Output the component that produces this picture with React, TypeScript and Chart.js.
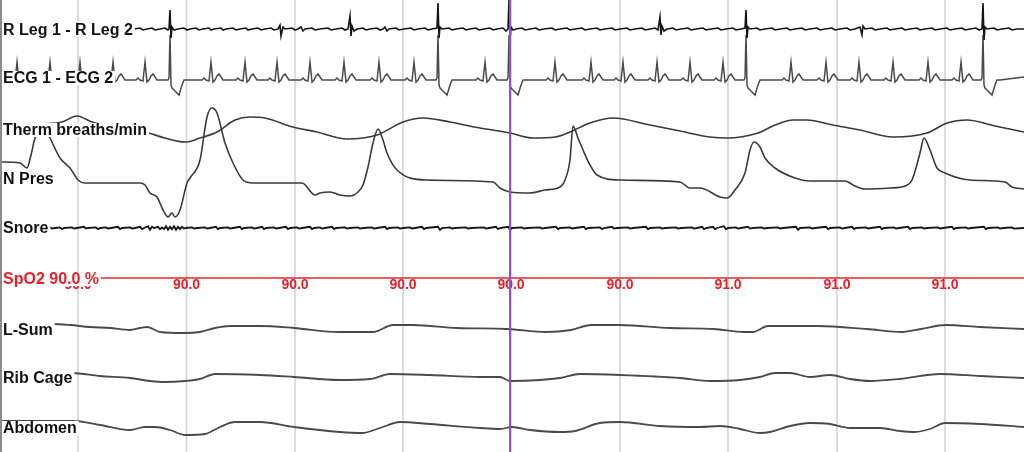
import { useEffect, useRef } from 'react';
import { Chart, registerables } from 'chart.js';

Chart.register(...registerables);

// ---------- time axis ----------
const TIME_MIN = 0;
const TIME_MAX = 1024;
const GRID_TIMES = [78, 186.5, 295, 403, 511, 620, 728, 837, 945];
const CURSOR_TIME = 510;

// ---------- SpO2 readings shown at each grid line ----------
const SPO2_VALUES = [90.0, 90.0, 90.0, 90.0, 90.0, 90.0, 91.0, 91.0, 91.0];

// ---------- ECG ----------
const ECG_NORMAL_BEATS = [17, 50, 80, 113, 145, 211, 245, 277, 310, 344, 379, 414, 485, 555, 591, 623, 657, 690, 723, 791, 826, 859, 893, 928, 961];
const ECG_PVC_BEATS = [170, 438, 509, 746, 983];
const ECG_NORMAL_SHAPE = [[-9, 0], [-7, 2], [-5, 0], [-2, -1], [0, 18], [2, -2], [4, 0], [6, 4], [8, 6], [10, 3], [12, 0]];
const ECG_PVC_SHAPE = [[-2, 0], [-1, 2], [0, 45], [1, -5], [2, -8], [4, -10], [9, -15], [12, -5], [14, 0]];
const ECG_ENDS = [[0, 0], [1000, 0], [1024, 3]];

// ---------- R Leg EMG ----------
const LEG = [
  [0, 0], [134, 0], [140, 1], [143, -1], [147, 0], [152, 1], [155, -1], [160, 0], [165, 1], [168, -1], [169, 0], [170, 19], [171, -9], [172, 2], [174, -1], [178, 0],
  [184, 1], [187, -1], [190, 0], [196, 1], [199, -1], [203, 0], [209, 1], [211, -1], [214, 0], [221, 1], [223, -1], [226, 0], [233, 1], [236, -1], [240, 0],
  [246, 1], [248, -1], [252, 0], [258, 1], [261, -1], [265, 0], [271, 1], [274, -1], [278, 0], [280, 4], [281, -7], [283, 2], [285, 0], [292, 1], [295, -1],
  [298, 0], [301, 2], [303, -2], [305, 0], [312, 1], [315, -1], [320, 0], [328, 1], [331, -1], [336, 0], [342, 1], [345, -1], [348, 0], [350, 13], [351, -7],
  [352, 3], [354, -2], [357, 0], [363, 1], [366, -1], [370, 0], [377, 1], [380, -1], [383, 0], [385, 2], [387, -2], [389, 0], [396, 1], [399, -1], [404, 0],
  [411, 1], [414, -1], [418, 0], [425, 1], [428, -1], [432, 0], [437, 1], [438, 26], [439, -9], [440, 2], [442, 0], [449, 1], [452, -1], [456, 0], [463, 1],
  [466, -1], [470, 0], [476, 1], [479, -1], [484, 0], [490, 1], [493, -1], [497, 0], [503, 1], [506, -2], [508, 0], [509, 29], [510, -11], [511, 2], [513, -1],
  [516, 0], [522, 1], [525, -1], [530, 0], [536, 1], [539, -1], [544, 0], [552, 1], [555, -1], [560, 0], [567, 1], [570, -1], [575, 0], [582, 1], [585, -1],
  [590, 0], [597, 1], [600, -1], [605, 0], [612, 1], [615, -1], [620, 0], [627, 1], [630, -1], [635, 0], [642, 1], [645, -1], [650, 0], [655, 1], [658, -1],
  [660, 12], [661, -6], [662, 3], [664, -2], [667, 0], [673, 1], [676, -1], [681, 0], [688, 1], [691, -1], [696, 0], [703, 1], [706, -1], [711, 0], [718, 1],
  [721, -1], [726, 0], [733, 1], [736, -1], [741, 0], [745, 1], [746, 19], [747, -9], [748, 2], [750, 0], [757, 1], [760, -1], [765, 0], [772, 1], [775, -1],
  [780, 0], [787, 1], [790, -1], [795, 0], [802, 1], [805, -1], [810, 0], [817, 1], [820, -1], [825, 0], [832, 1], [835, -1], [840, 0], [847, 1], [850, -1],
  [855, 0], [860, 2], [862, -6], [863, 3], [865, 0], [872, 1], [875, -1], [880, 0], [887, 1], [890, -1], [895, 0], [902, 1], [905, -1], [910, 0], [917, 1],
  [920, -1], [925, 0], [932, 1], [935, -1], [940, 0], [947, 1], [950, -1], [955, 0], [962, 1], [965, -1], [970, 0], [976, 1], [979, -1], [982, 0], [983, 26],
  [984, -11], [985, 2], [987, 0], [994, 1], [997, -1], [1002, 0], [1009, 1], [1012, -1], [1017, 0], [1024, 0],
];

// ---------- Thermistor ----------
const THERM = [
  [0, 0], [40, 6], [62, 8], [77, 14], [92, 8], [120, 2], [145, -2], [165, -8], [185, -12], [200, -8], [217, -2], [235, 10], [250, 13], [265, 12], [293, 3],
  [317, -2], [347, -9], [377, -5], [403, 8], [423, 12], [450, 8], [480, 2], [510, -3], [533, -8], [555, -7], [570, -2], [590, 7], [613, 12], [650, 5],
  [680, -1], [710, -7], [727, -8], [758, -3], [775, 5], [793, 10], [807, 10], [833, 5], [860, 0], [893, -7], [927, -3], [947, 7], [967, 10], [995, 4], [1024, -2],
];

// ---------- Nasal pressure ----------
const NPRES = [
  [0, 18], [20, 17], [27, 12], [31, 25], [35, 42], [42, 52], [46, 50], [50, 42], [60, 22], [70, 12], [78, 0], [85, -3], [140, -3], [145, -5], [150, -13],
  [157, -17], [163, -30], [168, -37], [172, -33], [175, -37], [180, -30], [187, -3], [190, 2], [200, 20], [207, 63], [212, 72], [217, 67], [225, 37],
  [233, 17], [243, 0], [253, -3], [302, -3], [315, -15], [320, -13], [330, -12], [340, -15], [350, -16], [358, -12], [363, -5], [368, 13], [373, 37],
  [378, 51], [383, 40], [387, 27], [397, 10], [427, 0], [493, -2], [500, -8], [510, -12], [530, -13], [545, -10], [560, -7], [565, 0], [570, 20],
  [573, 54], [578, 42], [583, 30], [590, 15], [597, 5], [620, 0], [680, -2], [690, -8], [700, -8], [720, -17], [727, -18], [735, -10], [745, 7], [750, 30],
  [754, 38], [760, 33], [765, 22], [775, 12], [795, 2], [810, -1], [845, -1], [855, -6], [865, -9], [890, -8], [905, -6], [912, 0], [920, 27], [924, 42],
  [930, 30], [937, 12], [945, 7], [970, 0], [1005, -2], [1012, -7], [1024, -9],
];

// ---------- Snore ----------
const SNORE = [
  [0, 0], [44, 0], [50, 1], [52, -1], [55, 0], [60, 1], [62, -2], [64, 0], [72, 1], [74, -1], [77, 0], [84, 2], [86, -1], [88, 0], [96, 1], [98, -2], [100, 0],
  [106, 1], [108, -1], [111, 0], [118, 2], [120, -2], [122, 0], [130, 1], [132, -1], [135, 0], [140, 2], [142, -2], [144, 0], [148, 3], [150, -3], [152, 2],
  [154, 0], [158, 2], [160, -2], [162, 1], [164, -2], [166, 3], [168, -3], [170, 2], [172, -2], [174, 3], [176, -3], [178, 2], [180, -2], [182, 2], [184, -1],
  [186, 0], [192, 1], [194, -1], [197, 0], [205, 1], [207, -1], [210, 0], [216, 2], [218, -2], [220, 0], [228, 1], [230, -1], [233, 0], [240, 2], [242, -2],
  [244, 0], [252, 1], [254, -1], [257, 0], [262, 2], [264, -2], [266, 0], [274, 1], [276, -1], [279, 0], [286, 2], [288, -2], [290, 0], [297, 1], [299, -1],
  [302, 0], [310, 2], [312, -2], [314, 0], [320, 1], [322, -1], [325, 0], [332, 2], [334, -2], [336, 0], [345, 1], [347, -1], [350, 0], [358, 1], [360, -1],
  [363, 0], [372, 1], [374, -1], [377, 0], [385, 2], [387, -2], [389, 0], [398, 1], [400, -1], [403, 0], [410, 1], [412, -1], [415, 0], [422, 2], [424, -2],
  [426, 0], [438, 2], [440, -3], [442, 0], [450, 1], [452, -1], [455, 0], [466, 1], [468, -1], [471, 0], [484, 1], [486, -1], [489, 0], [496, 2], [498, -2],
  [500, 0], [508, 2], [510, -3], [512, 0], [522, 1], [524, -1], [527, 0], [540, 1], [542, -1], [545, 0], [556, 2], [558, -2], [560, 0], [570, 1], [572, -1],
  [575, 0], [584, 2], [586, -2], [588, 0], [600, 1], [602, -2], [604, 0], [612, 2], [614, -1], [617, 0], [628, 1], [630, -1], [633, 0], [646, 2], [648, -2],
  [650, 0], [660, 1], [662, -1], [665, 0], [676, 1], [678, -1], [681, 0], [692, 1], [694, -1], [697, 0], [702, 2], [704, -2], [706, 0], [713, 2], [715, -2],
  [717, 0], [724, 3], [726, -2], [728, 0], [736, 1], [738, -1], [741, 0], [748, 2], [750, -1], [753, 0], [762, 1], [764, -1], [767, 0], [778, 1], [780, -1],
  [783, 0], [796, 2], [798, -3], [800, 0], [810, 1], [812, -1], [815, 0], [826, 2], [828, -2], [830, 0], [840, 1], [842, -1], [845, 0], [852, 2], [854, -2],
  [856, 0], [866, 1], [868, -1], [871, 0], [880, 2], [882, -2], [884, 0], [894, 1], [896, -1], [899, 0], [908, 2], [910, -2], [912, 0], [922, 1], [924, -1],
  [927, 0], [938, 1], [940, -1], [943, 0], [952, 2], [954, -2], [956, 0], [966, 1], [968, -1], [971, 0], [984, 2], [986, -2], [988, 0], [998, 1], [1000, -1],
  [1003, 0], [1012, 1], [1014, -1], [1024, 0],
];

// ---------- SpO2 trace (flat) ----------
const SPO2_TRACE = [[0, 0], [1024, 0]];

// ---------- Effort belts ----------
const LSUM = [
  [0, 4], [52, 4], [70, 3], [90, 1], [110, 0], [130, -2], [140, 0], [147, 1], [160, -4], [185, -5], [200, -4], [215, 0], [230, 2], [260, 2], [294, 0],
  [339, -4], [373, -4], [393, 3], [413, 3], [457, 0], [507, -1], [546, -4], [571, -2], [591, 3], [620, 3], [670, 0], [714, -1], [744, -4], [753, -4],
  [768, 2], [818, 2], [867, -1], [902, -4], [921, -1], [946, 3], [980, 1], [1024, -1],
];
const RIB = [
  [0, 4], [72, 4], [100, 1], [130, -1], [150, -4], [165, -5], [185, -4], [200, -2], [215, 3], [260, 2], [294, 0], [339, -3], [370, -2], [390, 3], [430, 2],
  [480, 0], [500, 0], [510, -4], [540, -3], [560, -1], [580, 3], [620, 2], [680, -1], [710, -4], [740, -3], [760, 0], [775, 4], [790, 4], [810, 0],
  [830, 2], [850, -2], [870, -4], [900, -2], [940, 3], [980, 1], [1024, -1],
];
const ABD = [
  [0, 6], [73, 6], [100, 2], [130, -3], [145, 0], [155, 0], [170, -3], [185, -8], [205, -7], [220, 0], [235, 5], [260, 5], [294, 0], [340, -5], [362, -6],
  [380, -1], [400, 5], [430, 3], [480, -1], [500, -2], [512, 0], [530, -3], [560, -5], [575, -4], [600, 4], [620, 5], [660, 1], [700, 0], [720, 1],
  [740, -2], [760, -6], [770, -5], [790, 1], [810, 4], [830, 3], [850, -1], [880, -1], [900, -4], [915, -5], [930, -2], [945, 4], [980, 3], [1024, 0],
];

// ---------- layout (channel baselines on the vertical display scale) ----------
const Y_MIN = 0;
const Y_MAX = 452;
const SPO2_TEXT_Y = 285;

function buildEcg(): number[][] {
  const beats: { t: number; shape: number[][] }[] = [];
  ECG_NORMAL_BEATS.forEach((t) => beats.push({ t, shape: ECG_NORMAL_SHAPE }));
  ECG_PVC_BEATS.forEach((t) => beats.push({ t, shape: ECG_PVC_SHAPE }));
  beats.sort((a, b) => a.t - b.t);
  const pts: number[][] = [ECG_ENDS[0]];
  beats.forEach((b) => b.shape.forEach(([dt, v]) => pts.push([b.t + dt, v])));
  pts.push(ECG_ENDS[1], ECG_ENDS[2]);
  return pts;
}

const CHANNELS = [
  { name: 'R Leg 1 - R Leg 2', data: LEG, base: 29, gain: 1, smooth: false, labelY: 30, color: '#151515', width: 1.6, text: '#111' },
  { name: 'ECG 1 - ECG 2', data: buildEcg(), base: 80, gain: 1, smooth: false, labelY: 78, color: '#4a4a4a', width: 1.5, text: '#111' },
  { name: 'Therm breaths/min', data: THERM, base: 130, gain: 1, smooth: true, labelY: 130, color: '#3a3a3a', width: 1.6, text: '#111' },
  { name: 'N Pres', data: NPRES, base: 180, gain: 1, smooth: true, labelY: 179, color: '#3a3a3a', width: 1.6, text: '#111' },
  { name: 'Snore', data: SNORE, base: 228, gain: 0.6, smooth: false, labelY: 228, color: '#151515', width: 1.8, text: '#111' },
  { name: 'SpO2 90.0 %', data: SPO2_TRACE, base: 278, gain: 1, smooth: false, labelY: 279, color: '#e0282c', width: 1.5, text: '#e8202a' },
  { name: 'L-Sum', data: LSUM, base: 328, gain: 1, smooth: true, labelY: 330, color: '#4a4a4a', width: 1.8, text: '#111' },
  { name: 'Rib Cage', data: RIB, base: 377, gain: 1, smooth: true, labelY: 378, color: '#4a4a4a', width: 1.8, text: '#111' },
  { name: 'Abdomen', data: ABD, base: 427, gain: 1, smooth: true, labelY: 428, color: '#4a4a4a', width: 1.8, text: '#111' },
];

const LABEL_FONT = 'bold 16px "Liberation Sans", Arial, sans-serif';
const VALUE_FONT = 'bold 14px "Liberation Sans", Arial, sans-serif';

const overlayPlugin = {
  id: 'psgOverlay',
  beforeDatasetsDraw(chart: any) {
    const { ctx, chartArea, scales } = chart;
    const x = scales.x;
    ctx.save();
    ctx.strokeStyle = '#d4d4d4';
    ctx.lineWidth = 1.6;
    GRID_TIMES.forEach((t) => {
      const px = x.getPixelForValue(t);
      ctx.beginPath();
      ctx.moveTo(px, chartArea.top);
      ctx.lineTo(px, chartArea.bottom);
      ctx.stroke();
    });
    ctx.restore();
  },
  afterDatasetsDraw(chart: any) {
    const { ctx, chartArea, scales } = chart;
    const x = scales.x;
    const y = scales.y;
    ctx.save();
    // SpO2 readings
    ctx.font = VALUE_FONT;
    ctx.fillStyle = '#e8202a';
    ctx.textAlign = 'center';
    ctx.textBaseline = 'middle';
    SPO2_VALUES.forEach((v, i) => {
      ctx.fillText(v.toFixed(1), x.getPixelForValue(GRID_TIMES[i]), y.getPixelForValue(SPO2_TEXT_Y));
    });
    // cursor
    ctx.strokeStyle = '#8e4fd8';
    ctx.lineWidth = 2;
    const cx = x.getPixelForValue(CURSOR_TIME);
    ctx.beginPath();
    ctx.moveTo(cx, chartArea.top);
    ctx.lineTo(cx, chartArea.bottom);
    ctx.stroke();
    // channel labels with white backing
    ctx.font = LABEL_FONT;
    ctx.textAlign = 'left';
    ctx.textBaseline = 'middle';
    CHANNELS.forEach((c) => {
      const ly = y.getPixelForValue(c.labelY);
      const w = ctx.measureText(c.name).width;
      ctx.fillStyle = '#ffffff';
      ctx.fillRect(0, ly - 7, 3 + w + 2, 14);
      ctx.fillStyle = c.text;
      ctx.fillText(c.name, 3, ly + 1);
    });
    // left frame edge
    ctx.strokeStyle = '#8a8a8a';
    ctx.lineWidth = 2;
    ctx.beginPath();
    ctx.moveTo(1, chartArea.top);
    ctx.lineTo(1, chartArea.bottom);
    ctx.stroke();
    ctx.restore();
  },
};

export default function App() {
  const ref = useRef<HTMLCanvasElement | null>(null);
  useEffect(() => {
    if (!ref.current) return;
    const chart = new Chart(ref.current, {
      type: 'line',
      data: {
        datasets: CHANNELS.map((c) => ({
          label: c.name,
          data: c.data.map(([t, v]) => ({ x: t, y: c.base - v * c.gain })),
          borderColor: c.color,
          borderWidth: c.width,
          pointRadius: 0,
          tension: 0,
          cubicInterpolationMode: c.smooth ? 'monotone' : 'default',
          fill: false,
        })),
      },
      options: {
        animation: false,
        responsive: false,
        devicePixelRatio: 1,
        layout: { padding: 0 },
        events: [],
        scales: {
          x: { type: 'linear', min: TIME_MIN, max: TIME_MAX, display: false },
          y: { type: 'linear', min: Y_MIN, max: Y_MAX, reverse: true, display: false },
        },
        plugins: { legend: { display: false }, tooltip: { enabled: false } },
      },
      plugins: [overlayPlugin],
    });
    return () => chart.destroy();
  }, []);
  return (
    <div style={{ position: 'fixed', left: 0, top: 0, width: 1024, height: 452, background: '#fff' }}>
      <canvas ref={ref} width={1024} height={452} style={{ display: 'block', width: 1024, height: 452 }} />
    </div>
  );
}
